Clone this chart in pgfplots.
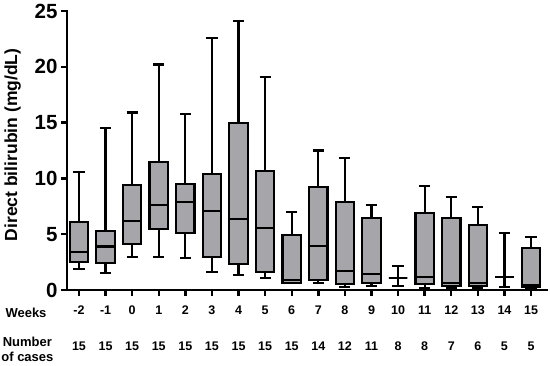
\documentclass[border=0pt]{standalone}
\usepackage{pgfplots}
\pgfplotsset{compat=1.18}
\usepgfplotslibrary{statistics}
\usepackage{fontspec}
\setmainfont{Liberation Sans}
\definecolor{boxgray}{RGB}{165,165,170}
\begin{document}
\begin{tikzpicture}
\path[use as bounding box] (-67pt,-75pt) rectangle (483pt,290pt);
\begin{axis}[
  scale only axis, width=480pt, height=279pt,
  xmin=-2.45, xmax=15.6, ymin=0, ymax=25,
  axis lines*=left,
  axis line style={line width=2.8pt, line cap=rect},
  tick align=outside,
  major tick length=6pt,
  tick style={line width=2.4pt, black},
  ytick={0,5,10,15,20,25},
  xtick={-2,-1,0,1,2,3,4,5,6,7,8,9,10,11,12,13,14,15},
  xticklabels={{-2\\15},{-1\\15},{0\\15},{1\\15},{2\\15},{3\\15},{4\\15},{5\\15},{6\\15},{7\\14},{8\\12},{9\\11},{10\\8},{11\\8},{12\\7},{13\\6},{14\\5},{15\\5}},
  /pgf/number format/assume math mode=true,
  yticklabel style={font=\bfseries\fontsize{20.5}{20.5}\selectfont, xshift=0pt},
  xticklabel style={align=center, font=\bfseries\fontsize{12.5}{36}\selectfont, yshift=-6pt},
  ylabel={Direct bilirubin (mg/dL)},
  ylabel style={font=\bfseries\fontsize{17.5}{17.5}\selectfont, at={(axis description cs:-0.113,0.52)}, anchor=center},
  clip=false,
  boxplot/draw direction=y,
  boxplot/every box/.style={draw=black, fill=boxgray, line width=2.2pt},
  boxplot/every whisker/.style={draw=black, line width=2.2pt},
  boxplot/every median/.style={draw=black, line width=2.2pt},
]
\pgfplotsset{
  bx/.style n args={6}{boxplot prepared={draw position=#1, lower whisker=#2, lower quartile=#3, median=#4, upper quartile=#5, upper whisker=#6, box extend=0.69, whisker extend=0.42}}
}
\addplot[draw=black, fill=boxgray, line width=2.2pt, bx={-2}{1.85}{2.54}{3.43}{6.12}{10.6}] coordinates {};
\addplot[draw=black, fill=boxgray, line width=2.2pt, bx={-1}{1.55}{2.45}{3.9}{5.3}{14.5}] coordinates {};
\addplot[draw=black, fill=boxgray, line width=2.2pt, bx={0}{2.93}{4.15}{6.18}{9.38}{15.9}] coordinates {};
\addplot[draw=black, fill=boxgray, line width=2.2pt, bx={1}{2.93}{5.44}{7.62}{11.45}{20.2}] coordinates {};
\addplot[draw=black, fill=boxgray, line width=2.2pt, bx={2}{2.84}{5.08}{7.92}{9.53}{15.8}] coordinates {};
\addplot[draw=black, fill=boxgray, line width=2.2pt, bx={3}{1.64}{2.99}{7.05}{10.37}{22.6}] coordinates {};
\addplot[draw=black, fill=boxgray, line width=2.2pt, bx={4}{1.31}{2.3}{6.33}{14.94}{24.1}] coordinates {};
\addplot[draw=black, fill=boxgray, line width=2.2pt, bx={5}{1.05}{1.64}{5.56}{10.69}{19.06}] coordinates {};
\addplot[draw=black, fill=boxgray, line width=2.2pt, bx={6}{0.6}{0.65}{0.9}{4.93}{7.02}] coordinates {};
\addplot[draw=black, fill=boxgray, line width=2.2pt, bx={7}{0.66}{0.9}{3.94}{9.2}{12.5}] coordinates {};
\addplot[draw=black, fill=boxgray, line width=2.2pt, bx={8}{0.3}{0.54}{1.7}{7.92}{11.86}] coordinates {};
\addplot[draw=black, fill=boxgray, line width=2.2pt, bx={9}{0.36}{0.6}{1.4}{6.42}{7.62}] coordinates {};
\addplot[draw=black, fill=boxgray, line width=2.2pt, bx={10}{0.36}{1.05}{1.05}{1.05}{2.15}] coordinates {};
\addplot[draw=black, fill=boxgray, line width=2.2pt, bx={11}{0.15}{0.51}{1.2}{6.93}{9.32}] coordinates {};
\addplot[draw=black, fill=boxgray, line width=2.2pt, bx={12}{0.2}{0.36}{0.66}{6.42}{8.36}] coordinates {};
\addplot[draw=black, fill=boxgray, line width=2.2pt, bx={13}{0.2}{0.36}{0.66}{5.82}{7.47}] coordinates {};
\addplot[draw=black, fill=boxgray, line width=2.2pt, bx={14}{0.24}{1.14}{1.14}{1.14}{5.08}] coordinates {};
\addplot[draw=black, fill=boxgray, line width=2.2pt, bx={15}{0.15}{0.24}{0.45}{3.73}{4.78}] coordinates {};
\node[font=\bfseries\fontsize{13}{13}\selectfont] at (axis description cs:-0.0854,-0.0824) {Weeks};
\node[font=\bfseries\fontsize{13}{15}\selectfont, align=center] at (axis description cs:-0.0825,-0.213) {Number\\of cases};
\end{axis}
\end{tikzpicture}
\end{document}
